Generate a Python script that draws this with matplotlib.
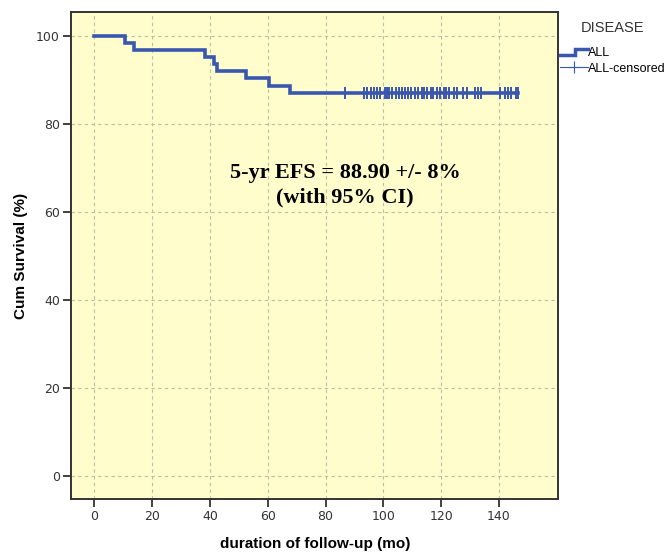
import numpy as np
import matplotlib.pyplot as plt
from matplotlib.lines import Line2D
from matplotlib.legend_handler import HandlerBase

# Kaplan-Meier curve (time in months, survival in %)
event_times = [0, 10.5, 13.8, 38.3, 41.5, 42.3, 52.4, 60.4, 67.7]
survival = [100, 98.4, 96.8, 95.2, 93.6, 92.0, 90.4, 88.8, 87.2]
end_time = 146.6

# censored observations
censor_times = [86.7, 93.4, 94.4, 95.6, 96.7, 97.9, 99.0, 100.5, 101.3, 102.0,
                103.0, 104.2, 105.4, 106.3, 107.4, 108.6, 109.7, 110.9, 112.0,
                113.2, 114.1, 115.2, 116.6, 117.2, 118.4, 119.5, 120.9, 121.8,
                122.7, 124.4, 125.3, 127.6, 128.8, 131.6, 132.6, 133.9, 140.2,
                142.0, 143.1, 144.3, 145.8, 146.6]

xticks = [0, 20, 40, 60, 80, 100, 120, 140]
yticks = [0, 20, 40, 60, 80, 100]

blue = '#3a57b0'


class StepHandler(HandlerBase):
    def create_artists(self, legend, orig, xd, yd, w, h, fontsize, trans):
        xs = [xd, xd + w*0.55, xd + w*0.55, xd + w]
        ys = [yd + h*0.2, yd + h*0.2, yd + h*0.8, yd + h*0.8]
        ln = Line2D(xs, ys, color=blue, lw=2.5, solid_joinstyle='miter')
        ln.set_transform(trans)
        return [ln]


fig = plt.figure(figsize=(6.71, 5.53), dpi=100)
ax = fig.add_axes([0.106, 0.098, 0.726, 0.88])
ax.set_facecolor('#fefdcb')

x = event_times + [end_time]
y = survival + [survival[-1]]
ax.step(x, y, where='post', color=blue, lw=2.6, solid_joinstyle='miter')

cens_y = [survival[-1]] * len(censor_times)
ax.plot(censor_times, cens_y, ls='none', marker='|', ms=8, mew=1.4, color=blue)

ax.set_xlim(-8, 160.5)
ax.set_ylim(-5.3, 105.5)
ax.set_xticks(xticks)
ax.set_yticks(yticks)
ax.grid(True, ls=(0, (3, 3)), color='#bdbda5', lw=0.8)
ax.tick_params(labelsize=9, labelcolor='#333333', length=6, width=1.3, pad=2,
               color='#333333')
for s in ax.spines.values():
    s.set_color('#333333')
    s.set_linewidth(1.4)

ax.set_xlabel('duration of follow-up (mo)', fontsize=11, fontweight='bold',
              family='Liberation Sans', labelpad=10)
ax.set_ylabel('Cum Survival (%)', fontsize=11, fontweight='bold',
              family='Liberation Sans', labelpad=6)

ax.text(0.562, 0.645, '5-yr EFS = 88.90 +/- 8%\n(with 95% CI)', transform=ax.transAxes,
        ha='center', va='center', fontsize=16, fontweight='bold',
        family='Liberation Serif', linespacing=1.3)

fig.text(0.865, 0.950, 'DISEASE', fontsize=10.5, family='Liberation Sans',
         color='#333333', va='center')
h1 = Line2D([], [], color=blue)
h2 = Line2D([], [], color=blue, marker='+', ms=9, lw=0.8, mew=0.8)
fig.legend([h1, h2], ['ALL', 'ALL-censored'], loc='upper left',
           bbox_to_anchor=(0.822, 0.93), frameon=False, handlelength=2.2,
           handletextpad=0.05, labelspacing=0.25, borderpad=0.2,
           prop={'family': 'Liberation Sans', 'size': 9},
           handler_map={h1: StepHandler()})

fig.savefig('out.png', dpi=100)
